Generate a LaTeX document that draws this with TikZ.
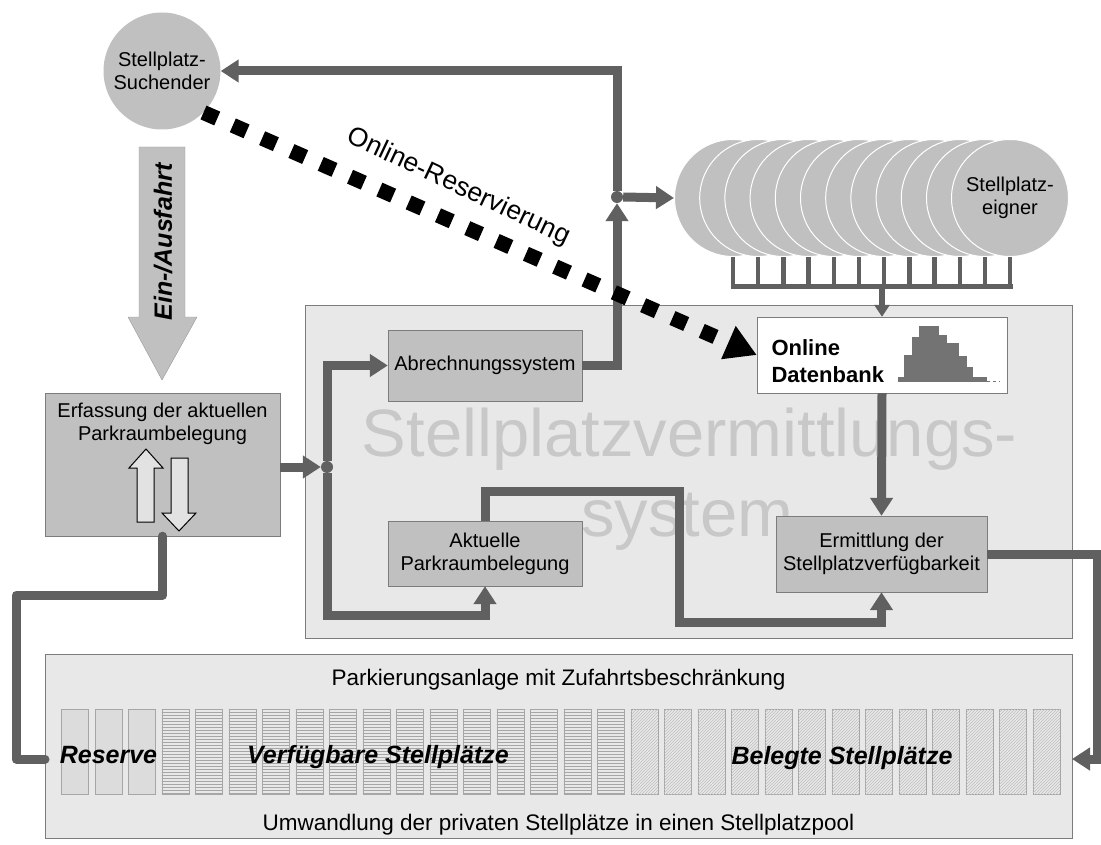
\documentclass[tikz,border=0pt]{standalone}
\usepackage{fontspec}
\setmainfont{Liberation Sans}
\usepackage{tikz}
\usepackage{xcolor}
\usetikzlibrary{arrows.meta, patterns}

\definecolor{flowgray}{HTML}{606060}
\definecolor{boxgray}{HTML}{C0C0C0}
\definecolor{panelgray}{HTML}{E8E8E8}
\definecolor{edgegray}{HTML}{7C7C7C}
\definecolor{markgray}{HTML}{C8C8C8}
\definecolor{histgray}{HTML}{737373}
\definecolor{slotgray}{HTML}{DCDCDC}
\definecolor{hollowgray}{HTML}{E2E2E2}

\newcommand{\fntlabel}{\fontsize{20}{23}\selectfont}
\newcommand{\fntpool}{\fontsize{22.5}{27}\selectfont}
\newcommand{\fntslot}{\fontsize{25}{30}\selectfont\bfseries\itshape}
\newcommand{\fntweb}{\fontsize{26.5}{31}\selectfont}
\newcommand{\fntmark}{\fontsize{67}{80}\selectfont}

\begin{document}
\begin{tikzpicture}[x=1pt, y=-1pt,
    flow/.style={draw=flowgray, line width=9pt},
    flowarrow/.style={flow, -{Triangle[length=18pt, width=22pt]}},
    box/.style={draw=edgegray, fill=boxgray, inner sep=0pt, font=\fntlabel, align=center},
    panel/.style={draw=edgegray, fill=panelgray, inner sep=0pt},
    party/.style={circle, fill=boxgray, inner sep=0pt, minimum size=117, font=\fntlabel, align=center},
    junction/.style={circle, fill=flowgray, inner sep=0pt, minimum size=12},
    slotbox/.style={draw=gray!70, inner sep=0pt, minimum width=27, minimum height=85},
    reserveslot/.style={slotbox, fill=slotgray},
    freeslot/.style={slotbox, fill=panelgray, postaction={pattern=horizontal lines, pattern color=gray!70}},
    takenslot/.style={slotbox, fill=panelgray, postaction={pattern=north east lines, pattern color=gray!50}},
    hollow/.style={draw=black, fill=hollowgray, line width=1pt},
    webline/.style={draw=black, line width=15pt, dash pattern=on 15pt off 17pt, -{Triangle[length=31pt, width=34pt]}}]
    \useasboundingbox (0,0) rectangle (1101,845);

    % Panels
    \node[panel, minimum width=767, minimum height=333] (vermittlung) at (688.5,471.5) {};
    \node[panel, minimum width=1027, minimum height=184] (parking) at (558.5,746) {};
    \node[font=\fntmark, text=markgray, anchor=base] (marktop) at (689.5,456) {Stellplatzvermittlungs-};
    \node[font=\fntmark, text=markgray, anchor=base] (markbottom) at (687.5,536) {system};

    % Parking facility
    \node[font=\fntpool, anchor=base] (pooltitle) at (558.5,685) {Parkierungsanlage mit Zufahrtsbeschränkung};
    \foreach \k in {0,1,2}
        \node[reserveslot] (slot\k) at ({74.9+33.5*\k},751.5) {};
    \foreach \k in {3,...,16}
        \node[freeslot] (slot\k) at ({74.9+33.5*\k},751.5) {};
    \foreach \k in {17,...,29}
        \node[takenslot] (slot\k) at ({74.9+33.5*\k},751.5) {};
    \node[font=\fntslot, anchor=base] (reserve) at (108.5,763) {Reserve};
    \node[font=\fntslot, anchor=base] (verfuegbar) at (378,763) {Verfügbare Stellplätze};
    \node[font=\fntslot, anchor=base] (belegt) at (842,764) {Belegte Stellplätze};
    \node[font=\fntpool, anchor=base] (pooltext) at (558.5,830) {Umwandlung der privaten Stellplätze in einen Stellplatzpool};

    % Boxes
    \node[box, minimum width=194, minimum height=71] (abrechnung) at (485,365.5) {Abrechnungssystem};
    \node[box, minimum width=194, minimum height=65] (aktuelle) at (485,553.5) {Aktuelle\\Parkraumbelegung};
    \node[box, minimum width=211, minimum height=76] (ermittlung) at (881.5,554) {Ermittlung der\\Stellplatzverfügbarkeit};
    \node[draw=edgegray, fill=white, inner sep=0pt, minimum width=250, minimum height=76] (datenbank) at (882,355) {};
    \node[font=\fontsize{22}{27}\selectfont\bfseries, align=left, anchor=west] (datenbanktext) at (768,361) {Online\\Datenbank};
    \foreach \a/\b/\t in {898/904/377, 904/912/355, 912/919/337, 919/939/326, 939/947/335,
                          947/959/343, 959/967/356, 967/973/367, 973/987/377}
        \fill[histgray] (\a,\t) rectangle (\b,382);
    \draw[histgray, dashed, line width=1pt] (987,381.5) -- (1000,381.5);

    % Erfassung with hollow arrows
    \node[box, minimum width=235, minimum height=143] (erfassung) at (162.5,464.5) {};
    \node[font=\fntlabel, align=center] (erfassungtext) at (162.5,424) {Erfassung der aktuellen\\Parkraumbelegung};
    \draw[hollow] (137,522) -- (154,522) -- (154,468) -- (163,468) -- (146,449) -- (129,468) -- (137,468) -- cycle;
    \draw[hollow] (171,458) -- (188,458) -- (188,513) -- (196,513) -- (179,531) -- (162,513) -- (171,513) -- cycle;

    % Ein-/Ausfahrt
    \draw[draw=gray!80, fill=boxgray] (139,147) -- (185,147) -- (185,317) -- (197,317) -- (162,380) -- (128,317) -- (139,317) -- cycle;
    \node[font=\fntslot, rotate=90] (einausfahrt) at (163,242) {Ein-/Ausfahrt};

    % Parties
    \node[party] (suchender) at (162,71) {Stellplatz-\\Suchender};
    \foreach \i in {0,...,10}
        \node[party, draw=white, line width=1pt] (owner\i) at ({733+25.2*\i},198) {};
    \node[party, draw=white, line width=1pt] (owner11) at (1010,198) {Stellplatz-\\eigner};

    % Comb below the owners
    \coordinate (combbar) at (882,287);
    \foreach \i in {0,...,11}
        \draw[flowgray, line width=4.5pt] (owner\i.south) -- (owner\i.south |- combbar);
    \draw[flowgray, line width=5pt, line cap=rect] (owner0.south |- combbar) -- (owner11.south |- combbar);
    \draw[flowgray, line width=6pt, -{Triangle[length=12pt, width=15pt]}] (combbar) -- (datenbank.north);

    % Junctions and flows
    \node[junction] (junctiontop) at (617,197) {};
    \node[junction] (junctionleft) at (327,467) {};
    \coordinate (busbottom) at (327,615);
    \coordinate (loopturn) at (679,622);
    \coordinate (rightin) at (1072,759);
    \coordinate (leftturn) at (16,759);
    \coordinate (leftout) at (45,759);

    \draw[flowarrow] (junctiontop.north) |- (suchender.east);
    \draw[flowarrow] (junctiontop.east) -- (owner0.west);
    \draw[flowarrow] (abrechnung.east) -| (junctiontop.south);
    \draw[flowarrow] (erfassung.east |- junctionleft) -- (junctionleft.west);
    \draw[flowarrow] (junctionleft.north) |- (abrechnung.west);
    \draw[flowarrow] (junctionleft.south) -- (busbottom) -| (aktuelle.south);
    \draw[flowarrow] (aktuelle.north) -- ++(0,-29) -| (loopturn) -| (ermittlung.south);
    \draw[flowarrow] (datenbank.south) -- (ermittlung.north);
    \draw[flowarrow] (ermittlung.east) -- ++(110,0) |- (rightin);
    \draw[flow, line cap=round, line join=round] (erfassung.south) -- ++(0,59) -| (leftturn) -- (leftout);

    % Online reservation
    \draw[webline] (suchender.south east) -- (datenbank.west)
        node[sloped, pos=0.435, above=11pt, rotate=-1.5, font=\fntweb, text=black] (reservierung) {Online-Reservierung};
\end{tikzpicture}
\end{document}
